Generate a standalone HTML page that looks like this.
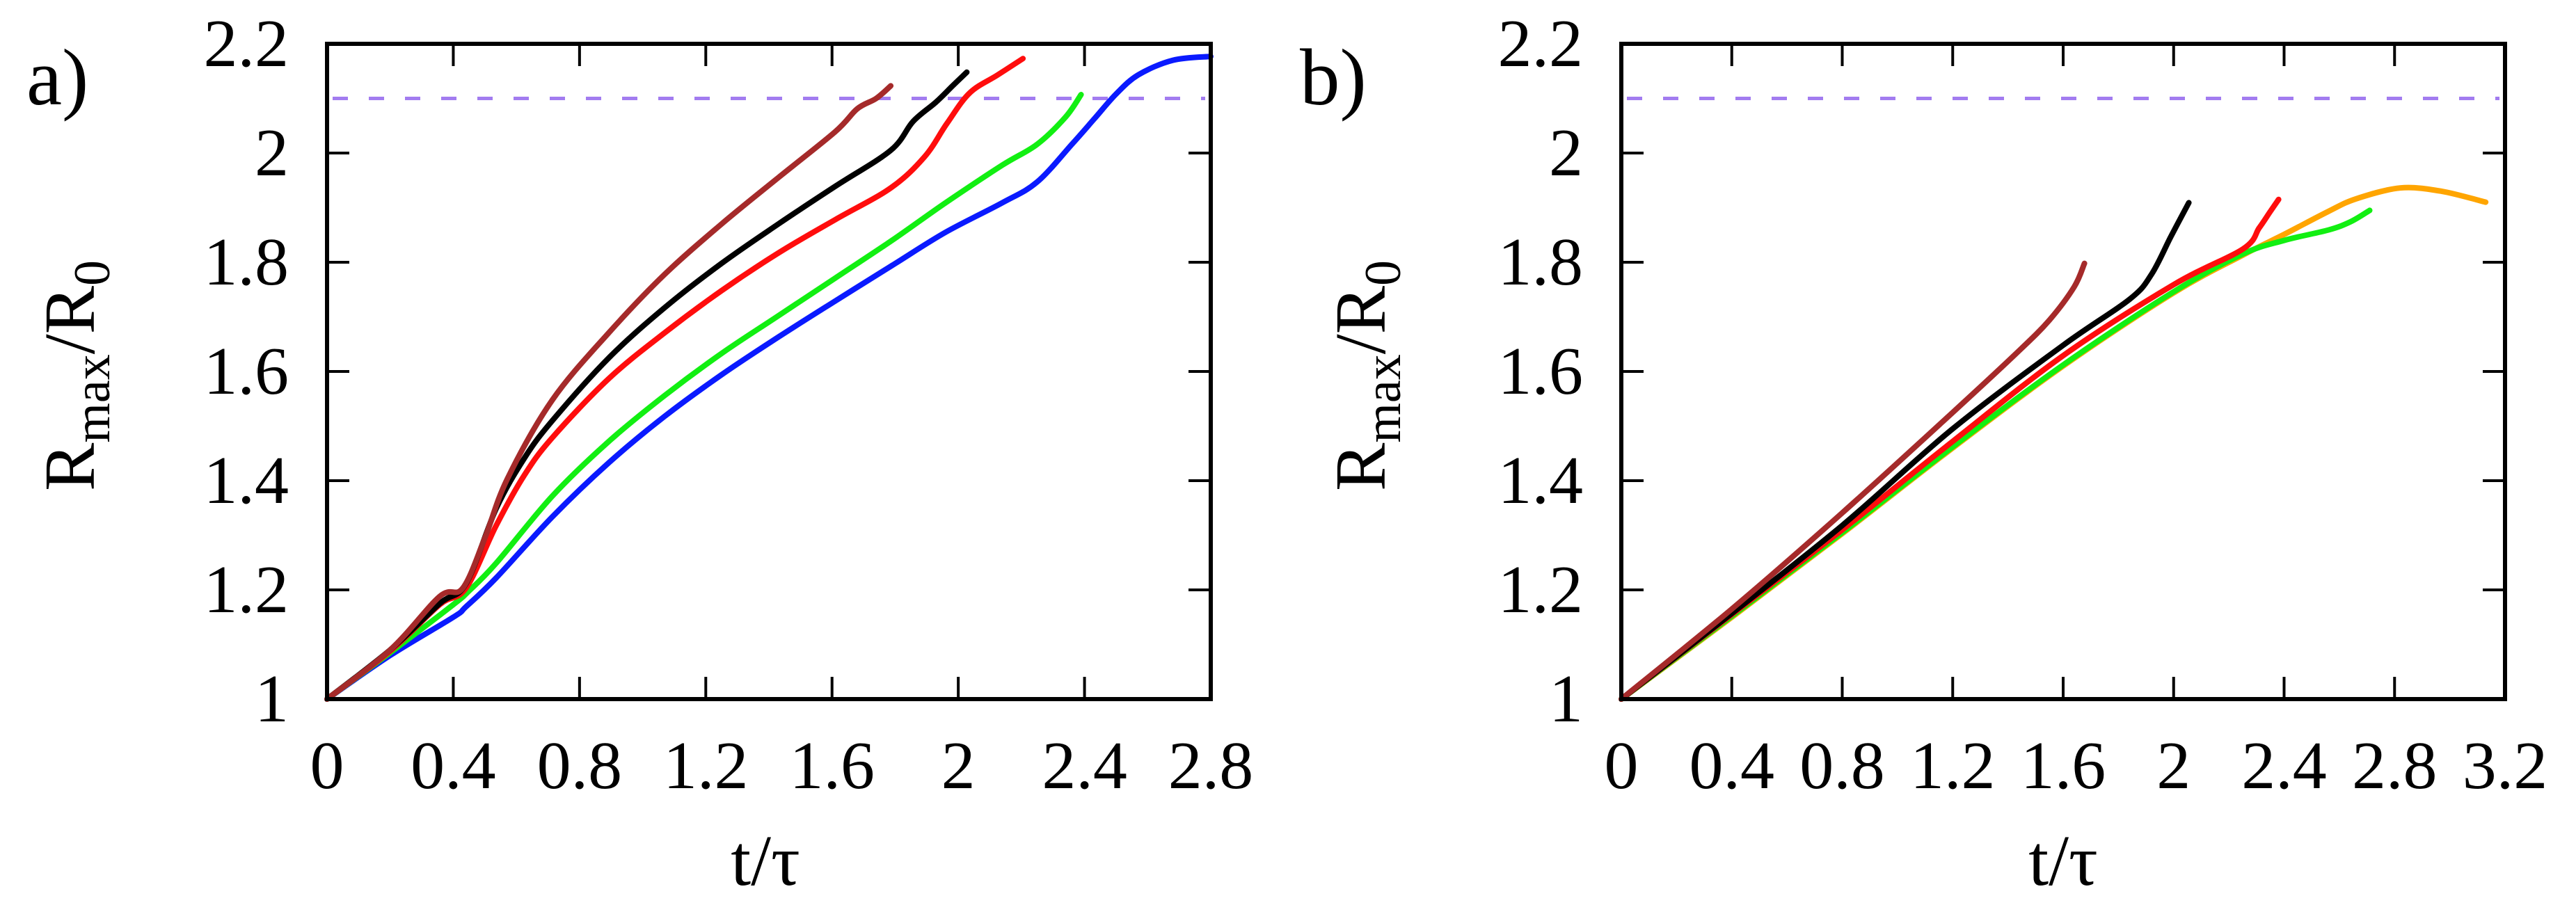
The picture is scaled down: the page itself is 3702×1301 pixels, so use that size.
<!DOCTYPE html>
<html><head><meta charset="utf-8"><style>
html,body{margin:0;padding:0;background:#fff;}
svg text{font-family:"Liberation Serif","DejaVu Serif",serif !important;}
</style></head><body>
<svg id="fig" width="3702" height="1296" viewBox="0 0 3702 1296" xmlns="http://www.w3.org/2000/svg"></svg>
<script>
// ---- data panel a ----
const aTicksX = [0,0.4,0.8,1.2,1.6,2,2.4,2.8];
const aTickLabelsX = ["0","0.4","0.8","1.2","1.6","2","2.4","2.8"];
const ticksY = [1,1.2,1.4,1.6,1.8,2,2.2];
const tickLabelsY = ["1","1.2","1.4","1.6","1.8","2","2.2"];
const thresholdY = 2.1;
const aBlueT = [0,0.2,0.4,0.44,0.536,0.714,0.893,1.07,1.25,1.43,1.61,1.79,1.96,2.14,2.25,2.36,2.43,2.5,2.57,2.68,2.8];
const aBlueR = [1,1.08,1.15,1.169,1.222,1.334,1.433,1.518,1.594,1.663,1.729,1.794,1.855,1.909,1.947,2.016,2.062,2.108,2.143,2.17,2.177];
const aGreenT = [0,0.2,0.4,0.446,0.536,0.714,0.893,1.07,1.25,1.43,1.61,1.79,1.96,2.14,2.25,2.34,2.389];
const aGreenR = [1,1.085,1.173,1.196,1.249,1.372,1.472,1.556,1.633,1.702,1.771,1.84,1.909,1.978,2.016,2.066,2.107];
const aRedT = [0,0.2,0.357,0.44,0.536,0.625,0.714,0.893,1.07,1.25,1.43,1.61,1.786,1.893,1.964,2.036,2.125,2.205];
const aRedR = [1,1.088,1.173,1.203,1.318,1.41,1.479,1.587,1.671,1.748,1.817,1.878,1.936,1.993,2.054,2.11,2.143,2.173];
const aBlackT = [0,0.2,0.357,0.44,0.536,0.625,0.714,0.893,1.07,1.25,1.43,1.61,1.786,1.857,1.929,1.982,2.027];
const aBlackR = [1,1.09,1.175,1.211,1.349,1.441,1.51,1.625,1.717,1.798,1.87,1.939,2.005,2.058,2.093,2.123,2.148];
const aBrownT = [0,0.2,0.357,0.43,0.5,0.571,0.714,0.893,1.07,1.25,1.43,1.61,1.68,1.74,1.786];
const aBrownR = [1,1.09,1.188,1.203,1.295,1.403,1.548,1.671,1.778,1.87,1.955,2.039,2.081,2.1,2.123];
// ---- data panel b ----
const bTicksX = [0,0.4,0.8,1.2,1.6,2,2.4,2.8,3.2];
const bTickLabelsX = ["0","0.4","0.8","1.2","1.6","2","2.4","2.8","3.2"];
const bOrangeT = [0,0.4,0.8,1.2,1.6,2.0,2.25,2.4,2.56,2.66,2.82,2.97,3.13];
const bOrangeR = [1,1.15,1.303,1.46,1.61,1.744,1.813,1.851,1.893,1.916,1.936,1.93,1.91];
const bGreenT = [0,0.4,0.8,1.2,1.6,2.0,2.25,2.4,2.56,2.64,2.71];
const bGreenR = [1,1.152,1.305,1.462,1.612,1.746,1.815,1.84,1.859,1.874,1.895];
const bRedT = [0,0.4,0.8,1.2,1.6,2.0,2.25,2.31,2.35,2.38];
const bRedR = [1,1.155,1.31,1.472,1.629,1.759,1.824,1.863,1.893,1.915];
const bBlackT = [0,0.4,0.8,1.2,1.6,1.84,1.92,1.99,2.055];
const bBlackR = [1,1.157,1.318,1.495,1.648,1.732,1.778,1.847,1.909];
const bBrownT = [0,0.4,0.8,1.2,1.43,1.55,1.64,1.677];
const bBrownR = [1,1.165,1.341,1.525,1.633,1.694,1.755,1.798];

const NS="http://www.w3.org/2000/svg";
const FONT='"Liberation Serif", "DejaVu Serif", serif';
const svg=document.getElementById('fig');
function mk(tag,attrs,parent){const e=document.createElementNS(NS,tag);for(const k in attrs)e.setAttribute(k,attrs[k]);(parent||svg).appendChild(e);return e;}
function smooth(pts){
  let d='M'+pts[0][0].toFixed(1)+' '+pts[0][1].toFixed(1);
  for(let i=0;i<pts.length-1;i++){
    const p0=pts[Math.max(i-1,0)],p1=pts[i],p2=pts[i+1],p3=pts[Math.min(i+2,pts.length-1)];
    const c1=[p1[0]+(p2[0]-p0[0])/6,p1[1]+(p2[1]-p0[1])/6];
    const c2=[p2[0]-(p3[0]-p1[0])/6,p2[1]-(p3[1]-p1[1])/6];
    d+='C'+c1[0].toFixed(1)+' '+c1[1].toFixed(1)+' '+c2[0].toFixed(1)+' '+c2[1].toFixed(1)+' '+p2[0].toFixed(1)+' '+p2[1].toFixed(1);
  }
  return d;
}
function txt(attrs,g){const t=mk('text',attrs,g);t.style.fontFamily=FONT;return t;}

function panel(cfg){
  const g=mk('g',{});
  
  
  const sx=v=>cfg.x0+(v-cfg.xmin)/(cfg.xmax-cfg.xmin)*(cfg.x1-cfg.x0);
  const sy=v=>cfg.y1-(v-1)/(1.2)*(cfg.y1-cfg.y0);
  const th=mk('line',{x1:cfg.x0+8,x2:cfg.x1-8,y1:sy(thresholdY),y2:sy(thresholdY),stroke:'#a27cf0','stroke-width':5,'stroke-dasharray':'22,30'},g);
  
  
  cfg.series.forEach(s=>{
    const pts=s.t.map((t,i)=>[sx(t),sy(s.r[i])]);
    const p=mk('path',{d:smooth(pts),fill:'none',stroke:s.color,'stroke-width':8,'stroke-linejoin':'round','stroke-linecap':'round'},g);
    
    
  });
  cfg.ticksX.forEach((v,i)=>{
    mk('line',{x1:sx(v),x2:sx(v),y1:cfg.y1,y2:cfg.y1-32,stroke:'#000','stroke-width':4},g);
    mk('line',{x1:sx(v),x2:sx(v),y1:cfg.y0,y2:cfg.y0+32,stroke:'#000','stroke-width':4},g);
    const t=txt({x:sx(v),y:cfg.y1+128,'font-size':98,'text-anchor':'middle'},g);
    t.textContent=cfg.labelsX[i];
    
    
  });
  ticksY.forEach((v,i)=>{
    mk('line',{x1:cfg.x0,x2:cfg.x0+32,y1:sy(v),y2:sy(v),stroke:'#000','stroke-width':4},g);
    mk('line',{x1:cfg.x1,x2:cfg.x1-32,y1:sy(v),y2:sy(v),stroke:'#000','stroke-width':4},g);
    const t=txt({x:cfg.x0-55,y:sy(v)+32,'font-size':98,'text-anchor':'end'},g);
    t.textContent=tickLabelsY[i];
    
    
  });
  mk('rect',{x:cfg.x0,y:cfg.y0,width:cfg.x1-cfg.x0,height:cfg.y1-cfg.y0,fill:'none',stroke:'#000','stroke-width':6},g);
  const xt=txt({x:cfg.xtx,y:1272,'font-size':104,'text-anchor':'middle'},g);
  xt.textContent='t/τ';
  
  
  const yt=txt({x:0,y:0,'font-size':104,'text-anchor':'middle',transform:'translate('+cfg.ytx+',540) rotate(-90)'},g);
  yt.innerHTML='R<tspan font-size="74" dy="22">max</tspan><tspan dy="-22">/R</tspan><tspan font-size="74" dy="22">0</tspan>';
  
  
  const pl=txt({x:cfg.plx,y:150,'font-size':115},g);
  pl.textContent=cfg.plabel;
  
  
}

panel({name:'panel-a',x0:470,x1:1740,y0:63,y1:1005,xmin:0,xmax:2.8,ticksX:aTicksX,labelsX:aTickLabelsX,
  xtx:1100,ytx:135,plx:38,plabel:'a)',
  series:[
    {name:'series-blue',color:'#0a1aff',t:aBlueT,r:aBlueR},
    {name:'series-green',color:'#12ef12',t:aGreenT,r:aGreenR},
    {name:'series-red',color:'#ff0d0d',t:aRedT,r:aRedR},
    {name:'series-black',color:'#000',t:aBlackT,r:aBlackR},
    {name:'series-brown',color:'#a52a2a',t:aBrownT,r:aBrownR}]});
panel({name:'panel-b',x0:2330,x1:3600,y0:63,y1:1005,xmin:0,xmax:3.2,ticksX:bTicksX,labelsX:bTickLabelsX,
  xtx:2965,ytx:1990,plx:1868,plabel:'b)',
  series:[
    {name:'series-orange',color:'#ffa500',t:bOrangeT,r:bOrangeR},
    {name:'series-green',color:'#12ef12',t:bGreenT,r:bGreenR},
    {name:'series-red',color:'#ff0d0d',t:bRedT,r:bRedR},
    {name:'series-black',color:'#000',t:bBlackT,r:bBlackR},
    {name:'series-brown',color:'#a52a2a',t:bBrownT,r:bBrownR}]});
</script>
</body></html>
